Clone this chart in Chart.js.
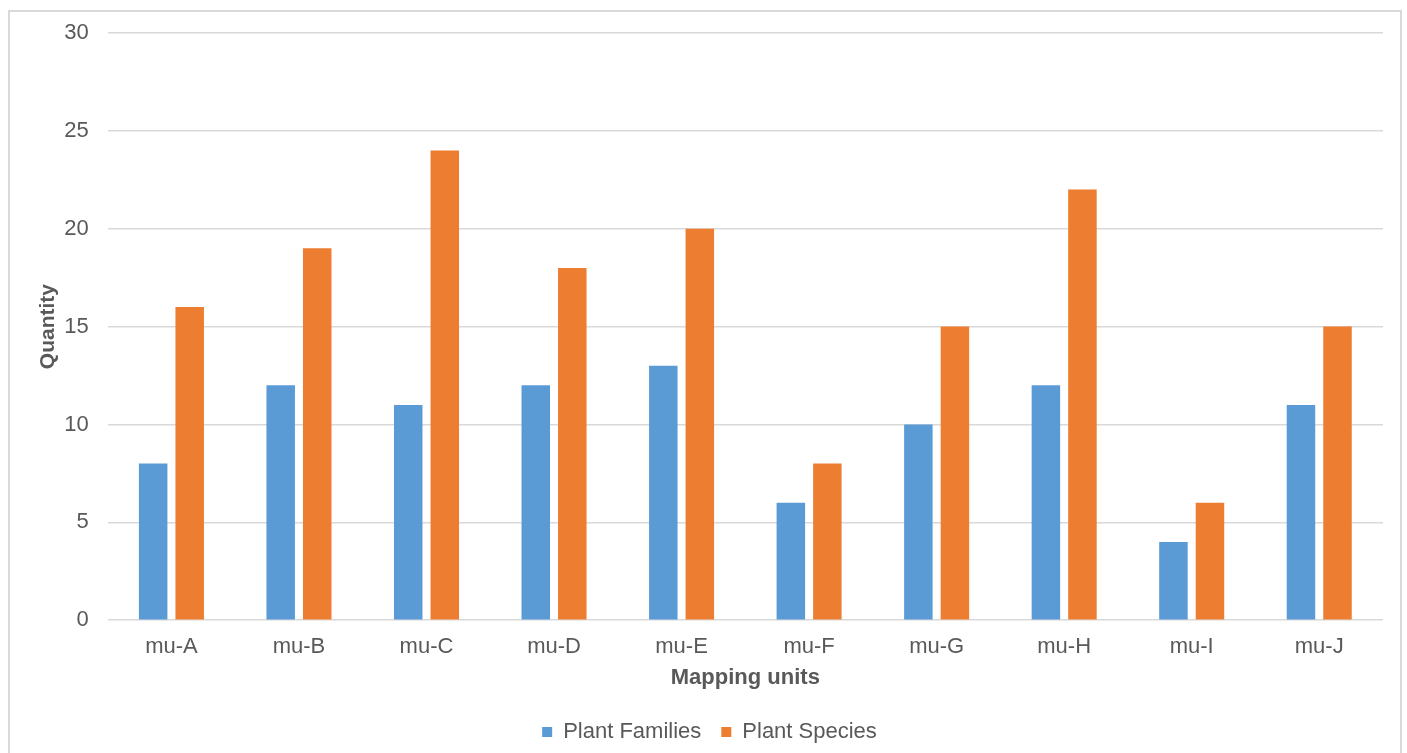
<!DOCTYPE html>
<html>
<head>
<meta charset="utf-8">
<script src="https://cdn.jsdelivr.net/npm/chart.js@4"></script>
<style>
  html, body { margin: 0; padding: 0; background: #fff; overflow: hidden; }
  #frame { position: absolute; left: 8px; top: 10px; width: 1394px; height: 800px; border: 2px solid #d9d9d9; box-sizing: border-box; }
  #wrap { position: absolute; left: 0; top: 0; width: 1407px; height: 753px; }
</style>
</head>
<body>
<div id="frame"></div>
<div id="wrap"><canvas id="c" width="1407" height="753"></canvas></div>
<script>
const categories = ["mu-A","mu-B","mu-C","mu-D","mu-E","mu-F","mu-G","mu-H","mu-I","mu-J"];
const plantFamilies = [8, 12, 11, 12, 13, 6, 10, 12, 4, 11];
const plantSpecies = [16, 19, 24, 18, 20, 8, 15, 22, 6, 15];
const yTicks = [0, 5, 10, 15, 20, 25, 30];

const FONT = "'Liberation Sans', Arial, sans-serif";
const TXT = "#595959";

new Chart(document.getElementById('c'), {
  type: 'bar',
  data: {
    labels: categories,
    datasets: [
      { label: 'Plant Families', data: plantFamilies, backgroundColor: '#5B9BD5', categoryPercentage: 0.573, barPercentage: 0.78 },
      { label: 'Plant Species', data: plantSpecies, backgroundColor: '#ED7D31', categoryPercentage: 0.573, barPercentage: 0.78 }
    ]
  },
  options: {
    responsive: false,
    animation: false,
    layout: { padding: { left: 36, right: 24, top: 33, bottom: 0 } },
    plugins: {
      legend: {
        position: 'bottom',
        labels: { font: { family: FONT, size: 22 }, color: TXT, boxWidth: 10, boxHeight: 10, padding: 20 }
      },
      tooltip: { enabled: false }
    },
    scales: {
      x: {
        grid: { display: false, drawTicks: true, tickLength: 14 },
        border: { display: false },
        ticks: { font: { family: FONT, size: 22 }, color: TXT, padding: 0 },
        title: { display: true, text: 'Mapping units', font: { family: FONT, size: 22, weight: 'bold' }, color: TXT, padding: { top: 4, bottom: 10 } }
      },
      y: {
        min: 0, max: 30,
        afterBuildTicks: (axis) => { axis.ticks = yTicks.map(v => ({ value: v })); },
        grid: { color: '#d9d9d9', lineWidth: 1.5, drawTicks: true, tickLength: 16, tickColor: 'rgba(0,0,0,0)' },
        border: { display: false },
        ticks: { font: { family: FONT, size: 22 }, color: TXT, padding: 3 },
        title: { display: true, text: 'Quantity', font: { family: FONT, size: 21, weight: 'bold' }, color: TXT, padding: { top: 0, bottom: 0 } }
      }
    }
  }
});
</script>
</body>
</html>
